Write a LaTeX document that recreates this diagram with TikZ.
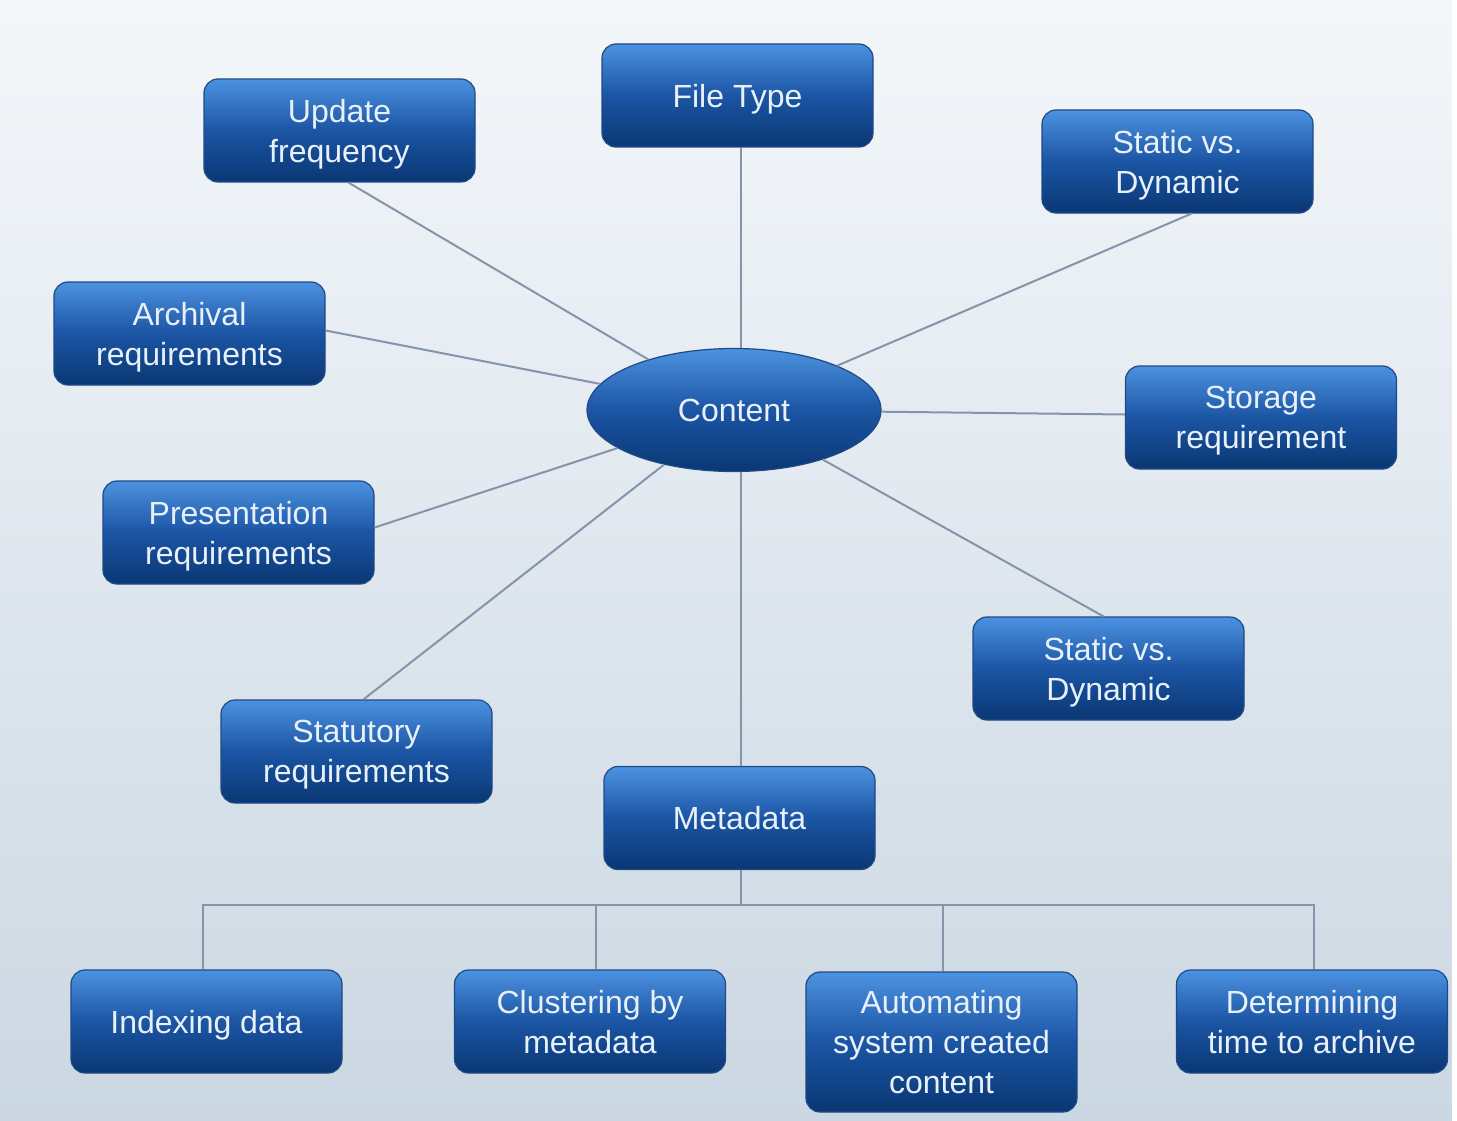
\documentclass[tikz,border=0pt]{standalone}
\usepackage{fontspec}
\setmainfont{Liberation Sans}
\usetikzlibrary{shapes.geometric,calc}
\definecolor{bgtop}{HTML}{F4F7FA}
\definecolor{bgbot}{HTML}{CBD7E2}
\definecolor{boxtop}{HTML}{4C92E0}
\definecolor{boxmid}{HTML}{1B55A4}
\definecolor{boxbot}{HTML}{0A3774}
\definecolor{boxline}{HTML}{1E4A86}
\definecolor{txt}{HTML}{E8F0FA}
\definecolor{link}{HTML}{8494AB}
\tikzset{
  topic/.style={rectangle, rounded corners=14pt, minimum width=271pt, minimum height=103pt,
    inner sep=0pt, top color=boxtop, bottom color=boxbot, middle color=boxmid,
    draw=boxline, line width=1.2pt, text=txt, align=center, text depth=-2pt,
    font=\fontsize{32}{40}\selectfont},
  hub/.style={ellipse, minimum width=294pt, minimum height=123pt, inner sep=0pt,
    top color=boxtop, bottom color=boxbot, middle color=boxmid,
    draw=boxline, line width=1.2pt, text=txt, font=\fontsize{32}{40}\selectfont},
  conn/.style={draw=link, line width=2pt}
}
\begin{document}
\begin{tikzpicture}[x=1pt,y=-1pt]
\useasboundingbox (0,0) rectangle (1457,1121);
\shade[top color=bgtop, bottom color=bgbot] (0,0) rectangle (1457,1121);
\fill[white] (1452,0) rectangle (1457,1121);

\node[hub] (c) at (734,410) {Content};
\node[topic] (upd) at (339.5,130.5) {Update\\frequency};
\node[topic] (ft) at (737.5,95.5) {File Type};
\node[topic] (sd1) at (1177.5,161.5) {Static vs.\\Dynamic};
\node[topic] (arc) at (189.5,333.5) {Archival\\requirements};
\node[topic] (sto) at (1261,417.5) {Storage\\requirement};
\node[topic] (pre) at (238.5,532.5) {Presentation\\requirements};
\node[topic] (sd2) at (1108.5,668.5) {Static vs.\\Dynamic};
\node[topic] (stat) at (356.5,751.5) {Statutory\\requirements};
\node[topic] (meta) at (739.5,818) {Metadata};
\node[topic] (idx) at (206.5,1021.5) {Indexing data};
\node[topic] (clu) at (590,1021.5) {Clustering by\\metadata};
\node[topic, minimum height=140pt] (aut) at (941.5,1042) {Automating\\system created\\content};
\node[topic] (det) at (1312,1021.5) {Determining\\time to archive};

\draw[conn] (c) -- ($(upd.south)+(9,0)$);
\draw[conn] (c.north -| ft.south) ++(3,0) -- ($(ft.south)+(3,0)$);
\draw[conn] (c) -- ($(sd1.south)+(14,0)$);
\draw[conn] (c) -- ($(arc.east)+(0,-3)$);
\draw[conn] (c) -- ($(sto.west)+(0,-3)$);
\draw[conn] (c) -- ($(pre.east)+(0,-5)$);
\draw[conn] (c) -- ($(sd2.north)+(-5,0)$);
\draw[conn] (c) -- ($(stat.north)+(7,0)$);
\draw[conn] ($(c.south)+(7,0)$) -- ($(meta.north)+(1.5,0)$);

\coordinate (bus) at (741,906);
\draw[conn] ($(meta.south)+(1.5,0)$) -- (bus);
\draw[conn] ($(idx.north)+(-3.5,0)$) |- ($(det.north)+(2,-64.5)$) -- ($(det.north)+(2,0)$);
\draw[conn] ($(clu.north)+(6,0)$) -- ++(0,-64.5);
\draw[conn] ($(aut.north)+(1.5,0)$) -- ++(0,-66.5);
\end{tikzpicture}
\end{document}
